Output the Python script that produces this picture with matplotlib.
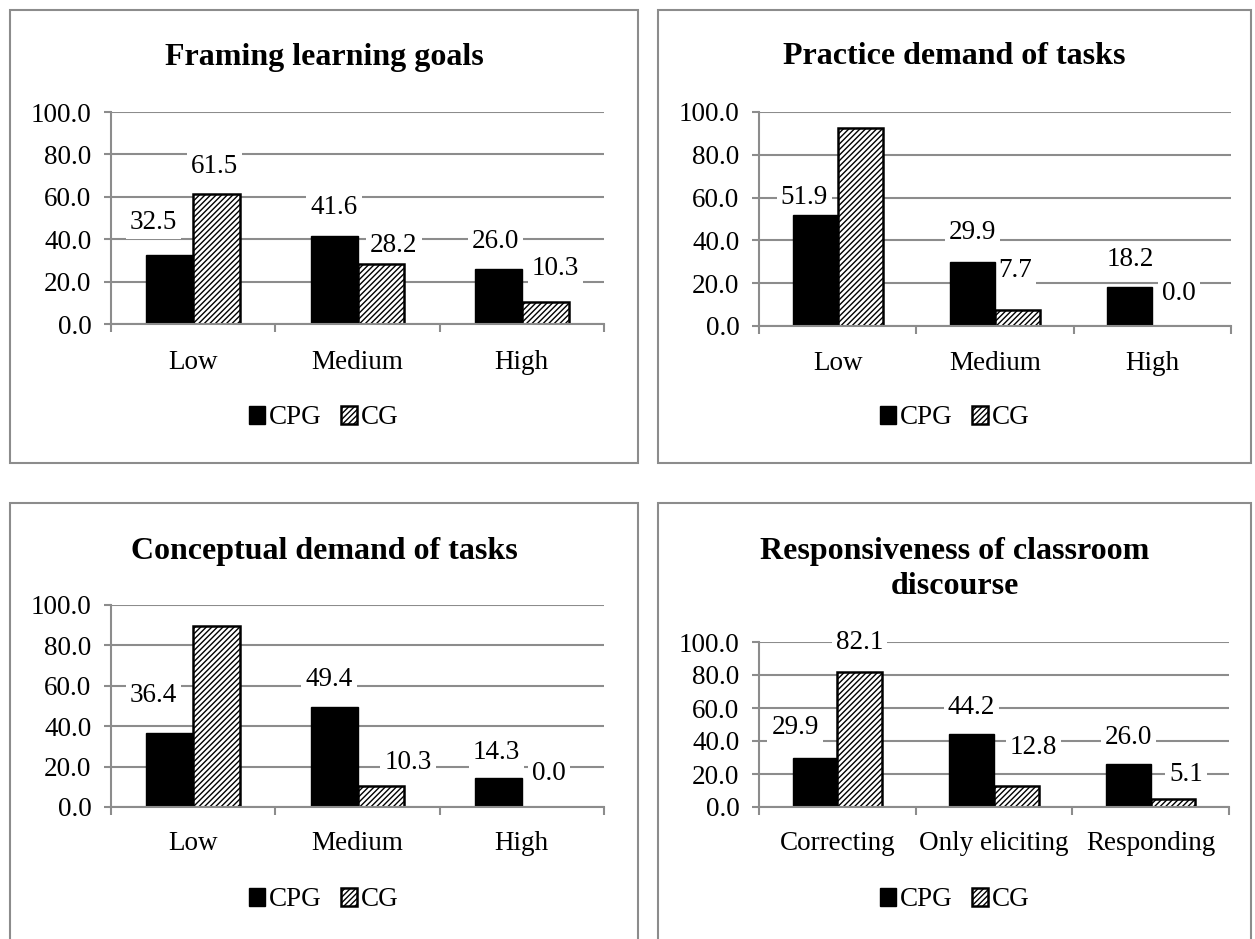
import matplotlib
matplotlib.use('Agg')
import matplotlib.pyplot as plt
from matplotlib.patches import Rectangle
import numpy as np

plt.rcParams['font.family'] = ['Liberation Serif', 'DejaVu Serif']
plt.rcParams['hatch.linewidth'] = 1.0

W, H = 1255, 939

titles = ['Framing learning goals', 'Practice demand of tasks',
          'Conceptual demand of tasks', 'Responsiveness of classroom\ndiscourse']
cats_level = ['Low', 'Medium', 'High']
cats_discourse = ['Correcting', 'Only eliciting', 'Responding']
series_names = ['CPG', 'CG']

cpg_framing = [32.5, 41.6, 26.0]
cg_framing = [61.5, 28.2, 10.3]
cpg_practice = [51.9, 29.9, 18.2]
cg_practice = [92.3, 7.7, 0.0]
cpg_conceptual = [36.4, 49.4, 14.3]
cg_conceptual = [89.7, 10.3, 0.0]
cpg_discourse = [29.9, 44.2, 26.0]
cg_discourse = [82.1, 12.8, 5.1]

# value labels were dragged around by hand in the original:
# heights in data units, sideways nudges in pixels
lab_cpg_framing = [48, 55, 39]
lab_cg_framing = [74.5, 37, 26]
lab_cpg_practice = [60, 43.5, 31]
lab_cg_practice = [105.6, 26, 15.4]
lab_cpg_conceptual = [55.4, 63, 27]
lab_cg_conceptual = [105, 21.8, 16.8]
lab_cpg_discourse = [48, 60.6, 42.4]
lab_cg_discourse = [99.4, 35.8, 19.4]

dx_cpg_framing = [-16, 0, -3]
dx_cg_framing = [-2, 13, 10]
dx_cpg_practice = [-11, 0, 0]
dx_cg_practice = [0, -2, 4]
dx_cpg_conceptual = [-16, -5, -2]
dx_cg_conceptual = [-2, 27, 4]
dx_cpg_discourse = [-20, 0, 0]
dx_cg_discourse = [0, 17, 13]

# pixel layout: box (x0, y0, x1, y1), axes (x0, y0, x1, y1), title y, legend (x, y), xlabel pad
panels = [
    dict(box=(10, 10, 638, 463), ax=(111, 112, 604, 324), ty=57, leg=(324, 418), pad=19),
    dict(box=(658, 10, 1251, 463), ax=(759, 112, 1231, 326), ty=57, leg=(955, 418), pad=18),
    dict(box=(10, 503, 638, 950), ax=(111, 605, 604, 807), ty=551, leg=(324, 900), pad=17),
    dict(box=(658, 503, 1251, 950), ax=(759, 642, 1229, 807), ty=569, leg=(955, 900), pad=17),
]
data = [
    (cats_level, cpg_framing, cg_framing, lab_cpg_framing, lab_cg_framing,
     dx_cpg_framing, dx_cg_framing),
    (cats_level, cpg_practice, cg_practice, lab_cpg_practice, lab_cg_practice,
     dx_cpg_practice, dx_cg_practice),
    (cats_level, cpg_conceptual, cg_conceptual, lab_cpg_conceptual, lab_cg_conceptual,
     dx_cpg_conceptual, dx_cg_conceptual),
    (cats_discourse, cpg_discourse, cg_discourse, lab_cpg_discourse, lab_cg_discourse,
     dx_cpg_discourse, dx_cg_discourse),
]

GRID = '#8c8c8c'
FS = 19.5


def fx(x):
    return x / W


def fy(y):
    return 1 - y / H


def value_labels(ax, xs, vals, ys, dxs):
    for xi, v, ly, dx in zip(xs, vals, ys, dxs):
        ax.annotate(f'{v:.1f}', (xi, ly), xytext=(dx * 0.72, 0), textcoords='offset points',
                    ha='center', va='center', fontsize=FS, zorder=0.8,
                    bbox=dict(fc='white', ec='none', pad=3))


fig = plt.figure(figsize=(W / 100, H / 100), dpi=100)

for p, (cats, cpg, cg, lcpg, lcg, dcpg, dcg), title in zip(panels, data, titles):
    bx0, by0, bx1, by1 = p['box']
    fig.patches.append(Rectangle((fx(bx0), fy(by1)), fx(bx1 - bx0), (by1 - by0) / H,
                                 transform=fig.transFigure, fill=False, ec=GRID, lw=1.5))
    fig.text(fx((bx0 + bx1) / 2), fy(p['ty']), title, ha='center', va='center',
             fontsize=23, fontweight='bold', linespacing=1.3)

    ax0, ay0, ax1, ay1 = p['ax']
    ax = fig.add_axes([fx(ax0), fy(ay1), fx(ax1 - ax0), (ay1 - ay0) / H])
    x = np.arange(len(cats))
    w = 0.2857
    b1 = ax.bar(x - w / 2, cpg, w, color='black', edgecolor='black', lw=1, label=series_names[0])
    b2 = ax.bar(x + w / 2, cg, w, color='white', edgecolor='black', lw=1.8, hatch='//////',
                label=series_names[1])
    value_labels(ax, x - w / 2, cpg, lcpg, dcpg)
    value_labels(ax, x + w / 2, cg, lcg, dcg)

    ax.set_xlim(-0.5, len(cats) - 0.5)
    ax.set_ylim(0, 100)
    ax.set_yticks(np.arange(0, 101, 20))
    ax.set_yticklabels([f'{t:.1f}' for t in np.arange(0, 101, 20)])
    ax.set_xticks(x)
    ax.set_xticklabels(cats)
    ax.set_xticks(np.arange(-0.5, len(cats), 1), minor=True)
    ax.tick_params(axis='x', which='major', length=0, pad=p['pad'], labelsize=FS)
    ax.tick_params(axis='x', which='minor', length=6, width=1.5, color=GRID, direction='out')
    ax.tick_params(axis='y', length=5, width=1.5, color=GRID, pad=9, labelsize=FS)
    ax.yaxis.grid(True, color=GRID, lw=1.5)
    ax.set_axisbelow(True)
    for s in ['top', 'right']:
        ax.spines[s].set_visible(False)
    for s in ['left', 'bottom']:
        ax.spines[s].set_color(GRID)
        ax.spines[s].set_linewidth(1.5)
    ax.set_facecolor('none')

    fig.legend([b1, b2], series_names, loc='center',
               bbox_to_anchor=(fx(p['leg'][0]), fy(p['leg'][1])),
               ncol=2, frameon=False, fontsize=FS, handlelength=0.6, handleheight=0.6,
               handletextpad=0.15, columnspacing=0.7, borderpad=0)

fig.savefig('out.png', dpi=100, facecolor='white')
